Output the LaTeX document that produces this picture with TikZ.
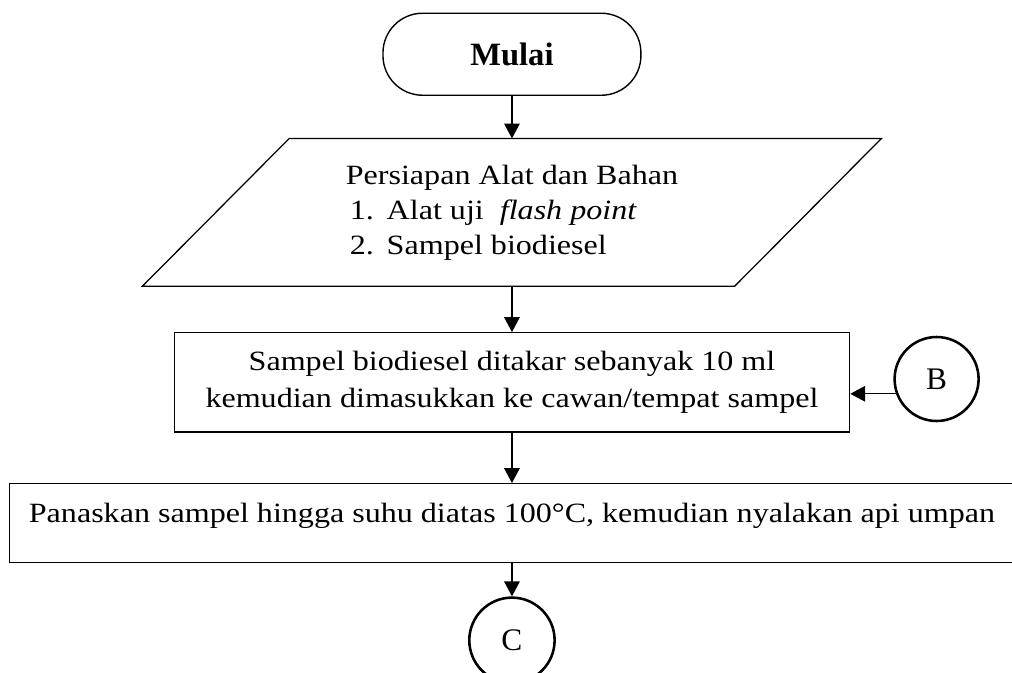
\documentclass[tikz,border=0pt]{standalone}
\usepackage{fontspec}
\setmainfont{Liberation Serif}[FakeStretch=1.15]
\newfontfamily\plainserif{Liberation Serif}
\usetikzlibrary{arrows.meta}

\tikzset{
  flowline/.style = {line width=0.5pt, -{Triangle[length=6.4pt,width=6.7pt]}},
  processbox/.style = {draw, line width=0.55pt, align=center, inner sep=0pt,
    font=\fontsize{12}{16.3}\selectfont},
  connector/.style = {draw, circle, line width=1.1pt, inner sep=0pt,
    font=\plainserif\fontsize{13.5}{15}\selectfont}
}

\begin{document}
\begin{tikzpicture}
  \useasboundingbox (0,0) rectangle (15.3,-10.16);

  % Start
  \node[draw, line width=0.6pt, rounded corners=0.6cm,
        minimum width=3.9cm, minimum height=1.24cm,
        font=\plainserif\bfseries\fontsize{14}{16}\selectfont]
        (start) at (7.74,-0.82) {Mulai};

  % Input (parallelogram)
  \node[minimum width=8.94cm, minimum height=2.22cm, inner sep=0pt,
        font=\fontsize{12}{15.2}\selectfont]
        (prep) at (7.74,-3.21) {%
    \begin{tabular}{@{}l@{}}
      Persiapan Alat dan Bahan\\
      \hspace{1.7pt}\makebox[15.9pt][l]{1.}Alat uji\ \ \textit{flash point}\\
      \hspace{1.7pt}\makebox[15.9pt][l]{2.}Sampel biodiesel
    \end{tabular}};
  \draw[line width=0.55pt]
    ([xshift=1.11cm]prep.north west) -- ([xshift=1.11cm]prep.north east)
    -- ([xshift=-1.11cm]prep.south east) -- ([xshift=-1.11cm]prep.south west)
    -- cycle;

  % Process steps
  \node[processbox, minimum width=10.21cm, minimum height=1.5cm]
        (sampel) at (7.74,-5.78)
        {Sampel biodiesel ditakar sebanyak 10 ml\\
         kemudian dimasukkan ke cawan/tempat sampel};
  \node[processbox, minimum width=15.19cm, inner ysep=4pt,
        text height=12.5pt, text depth=13.5pt]
        (panas) at (7.74,-7.91)
        {Panaskan sampel hingga suhu diatas 100\textdegree C, kemudian nyalakan api umpan};

  % Connectors
  \node[connector, minimum size=1.27cm] (B) at (14.16,-5.73) {B};
  \node[connector, minimum size=1.29cm] (C) at (7.74,-9.68) {C};

  % Arrows
  \draw[flowline] (start) -- (prep);
  \draw[flowline] (prep) -- (sampel);
  \draw[flowline] (sampel) -- (panas);
  \draw[flowline] (panas) -- (C);
  \draw[flowline] (B.200) -- (B.200 -| sampel.east);
\end{tikzpicture}
\end{document}
